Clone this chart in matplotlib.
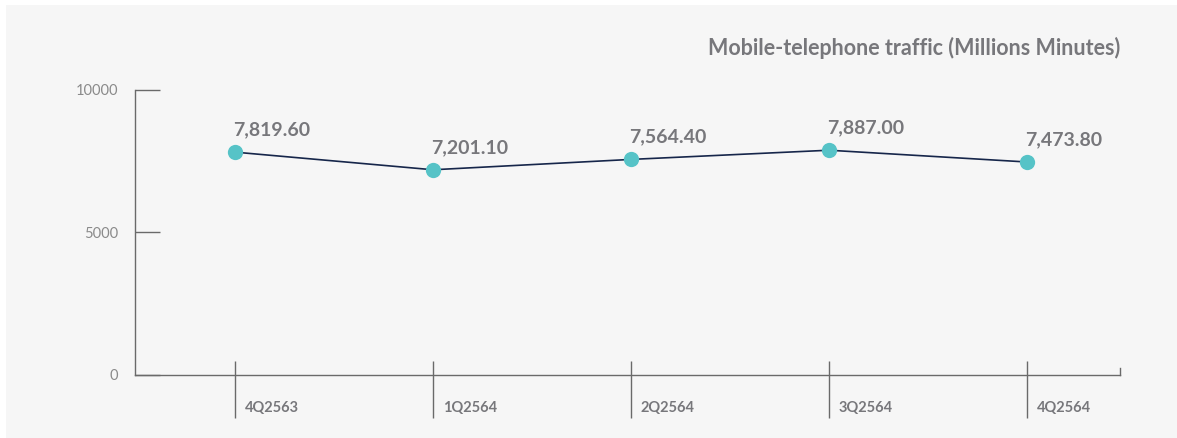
import matplotlib
matplotlib.use("Agg")
import matplotlib.pyplot as plt
from matplotlib.patches import Rectangle
import matplotlib.transforms as mtrans

categories = ["4Q2563", "1Q2564", "2Q2564", "3Q2564", "4Q2564"]
values = [7819.60, 7201.10, 7564.40, 7887.00, 7473.80]
value_labels = ["7,819.60", "7,201.10", "7,564.40", "7,887.00", "7,473.80"]
yticks = [0, 5000, 10000]
title = "Mobile-telephone traffic (Millions Minutes)"

W, H = 1177, 438
fig = plt.figure(figsize=(W / 100, H / 100), dpi=100)
fig.patch.set_facecolor("white")
fig.patches.append(Rectangle((6 / W, 0), 1 - 6 / W, 1 - 5 / H, transform=fig.transFigure,
                             facecolor="#f6f6f6", edgecolor="none", zorder=-10))

left, right = 135 / W, 1120 / W
bottom, top = 1 - 375 / H, 1 - 90 / H
ax = fig.add_axes([left, bottom, right - left, top - bottom])
ax.set_facecolor("none")

x = list(range(len(categories)))
ax.plot(x, values, color="#16264a", lw=1.2, zorder=2)
ax.plot(x, values, "o", color="#56c3c7", markersize=11, zorder=3, markeredgewidth=0)

for xi, v, lab in zip(x, values, value_labels):
    ax.annotate(lab, (xi, v), xytext=(-1, 10), textcoords="offset points",
                ha="left", va="bottom", fontsize=14, fontweight="bold",
                color="#77777b", family="Lato")

ax.set_xlim(-0.505, 4.47)
ax.set_ylim(0, 10000)

spine_c = "#6a6a6a"
for s in ["top", "right"]:
    ax.spines[s].set_visible(False)
for s in ["left", "bottom"]:
    ax.spines[s].set_color(spine_c)
    ax.spines[s].set_linewidth(1)

ax.set_yticks(yticks)
ax.set_yticklabels([str(t) for t in yticks], family="Lato", fontweight="normal")
ax.tick_params(axis="y", direction="in", length=18, width=1, color=spine_c,
               pad=12, labelsize=10.5, labelcolor="#8a8a8a")

ax.set_xticks(x)
ax.set_xticklabels([])
ax.tick_params(axis="x", which="major", direction="out", length=31, width=1, color=spine_c)
ax.xaxis.remove_overlapping_locs = False
ax.set_xticks(x, minor=True)
ax.tick_params(axis="x", which="minor", direction="in", length=10, width=1, color=spine_c)

# category labels, placed at category positions, below/right of each tick
trans = ax.get_xaxis_transform() + mtrans.ScaledTranslation(10 / 100, -33 / 100, fig.dpi_scale_trans)
for xi, c in zip(x, categories):
    ax.text(xi, 0, c, transform=trans, ha="left", va="center", fontsize=10.5,
            fontweight="bold", color="#77777b", family="Lato", clip_on=False)

# small end tick at the right end of the baseline
ax.plot([1, 1], [0, 0.025], transform=ax.transAxes, color=spine_c, lw=1, clip_on=False)

fig.text(right, 1 - 48 / H, title, ha="right", va="center", fontsize=15.5,
         fontweight="bold", color="#77777b", family="Lato")

fig.savefig("out.png", dpi=100, facecolor=fig.get_facecolor())
